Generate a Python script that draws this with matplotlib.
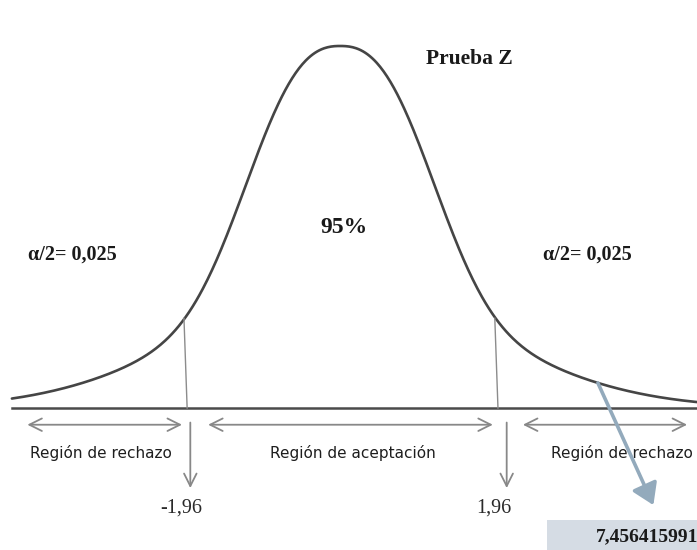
import numpy as np
import matplotlib
matplotlib.use("Agg")
import matplotlib.pyplot as plt
from matplotlib.patches import Rectangle

# valores de la prueba
z_crit = [-1.96, 1.96]
crit_labels = ["-1,96", "1,96"]
z_stat = 7.456415991
z_stat_label = "7,456415991"
alpha_labels = ["α/2= 0,025", "α/2= 0,025"]
conf_label = "95%"
region_labels = ["Región de rechazo", "Región de aceptación", "Región de rechazo"]

# forma de la campana: cuerpo achatado + colas más pesadas
peso_cola = 0.33
ancho_cuerpo, potencia = 1.40, 2.6
ancho_cola = 1.84

def densidad(z):
    z = np.abs(np.asarray(z))
    cuerpo = (1 - peso_cola) * np.exp(-(z / ancho_cuerpo) ** potencia)
    cola = peso_cola * np.exp(-0.5 * (z / ancho_cola) ** 2)
    return cuerpo + cola

fig = plt.figure(figsize=(6.97, 5.5), dpi=100)
ax = fig.add_axes([0, 0, 1, 1])
ax.set_xlim(-4.29, 4.50)
ax.set_ylim(-0.392, 1.127)
ax.axis("off")

z = np.linspace(-4.14, 4.50, 600)
ax.plot(z, densidad(z), color="#454545", lw=1.9, solid_capstyle="round")

# eje horizontal
ax.plot([-4.14, 4.50], [0, 0], color="#4a4a4a", lw=1.8)

# lineas de los valores criticos
for zc in z_crit:
    ax.plot([zc - 0.01, zc + 0.03], [densidad(zc), 0], color="#8c8c8c", lw=1.0)

gris = "#888888"
flecha = dict(arrowstyle="<->,head_length=0.9,head_width=0.45", color=gris,
              lw=1.3, mutation_scale=10, shrinkA=0, shrinkB=0)
tramos = [(-3.945, -1.995), (-1.665, 1.925), (2.305, 4.375)]
centros = [-3.015, 0.165, 3.555]
for (a, b), c, txt in zip(tramos, centros, region_labels):
    ax.annotate("", xy=(b, -0.046), xytext=(a, -0.046), arrowprops=flecha)
    ax.text(c, -0.124, txt, ha="center", va="center", fontsize=11,
            family="DejaVu Sans", color="#1e1e1e")

flecha_v = dict(arrowstyle="->,head_length=0.9,head_width=0.45", color=gris,
                lw=1.3, mutation_scale=10, shrinkA=0, shrinkB=0)
x_flechas = [-1.89, 2.10]
x_etiquetas = [-2.005, 1.94]
for xf, xe, lab in zip(x_flechas, x_etiquetas, crit_labels):
    ax.annotate("", xy=(xf, -0.221), xytext=(xf, -0.04), arrowprops=flecha_v)
    ax.text(xe, -0.276, lab, ha="center", va="center", fontsize=14.5,
            family="Liberation Serif", color="#2a2a2a")

serif_b = dict(family="Liberation Serif", fontweight="bold", color="#1a1a1a")
ax.text(1.627, 0.964, "Prueba Z", ha="center", va="center", fontsize=15.5, **serif_b)
ax.text(0.05, 0.50, conf_label, ha="center", va="center", fontsize=17, **serif_b)
ax.text(-3.38, 0.423, alpha_labels[0], ha="center", va="center", fontsize=14.5, **serif_b)
ax.text(3.115, 0.423, alpha_labels[1], ha="center", va="center", fontsize=14.5, **serif_b)

# estadistico calculado, fuera de la escala
ax.add_patch(Rectangle((2.61, -0.392), 2.0, 0.083, facecolor="#d5dce4",
                       edgecolor="none"))
ax.text(4.51, -0.356, z_stat_label, ha="right", va="center", fontsize=14, **serif_b)
ax.annotate("", xy=(3.95, -0.268), xytext=(3.25, densidad(3.25)),
            arrowprops=dict(arrowstyle="-|>,head_length=0.7,head_width=0.45",
                            color="#93aabc", lw=2.6, mutation_scale=18,
                            shrinkA=0, shrinkB=0))

fig.savefig("out.png", dpi=100)
